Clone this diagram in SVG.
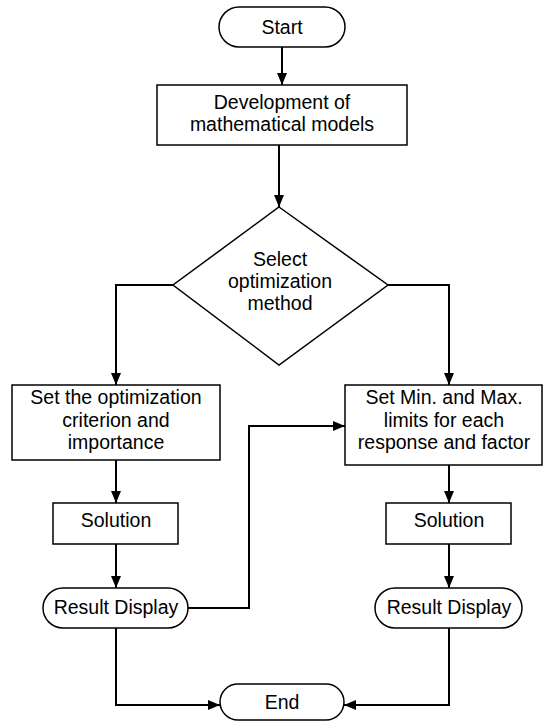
<svg xmlns="http://www.w3.org/2000/svg" width="544" height="721" viewBox="0 0 544 721">
  <style>
    .shape { fill: #ffffff; stroke: #000000; stroke-width: 1.5; }
    .label { font-family: "Liberation Sans", Arial, sans-serif; font-size: 19.5px; fill: #000000; text-anchor: middle; }
    .conn { fill: none; stroke: #000000; stroke-width: 2; }
  </style>
  <defs>
    <marker id="arrow" viewBox="0 0 12 10" refX="12" refY="5" markerWidth="12" markerHeight="10" markerUnits="userSpaceOnUse" orient="auto">
      <path d="M0,0 L12,5 L0,10 Z" fill="#000000"/>
    </marker>
  </defs>
  <rect width="544" height="721" fill="#ffffff"/>

  <g id="connectors">
    <path class="conn" d="M282,47 L282,85" marker-end="url(#arrow)"/>
    <path class="conn" d="M279,145 L279,207" marker-end="url(#arrow)"/>
    <path class="conn" d="M173,285 L116,285 L116,385" marker-end="url(#arrow)"/>
    <path class="conn" d="M388,285 L449,285 L449,385" marker-end="url(#arrow)"/>
    <path class="conn" d="M116,460 L116,503" marker-end="url(#arrow)"/>
    <path class="conn" d="M449,465 L449,503" marker-end="url(#arrow)"/>
    <path class="conn" d="M116,544 L116,588" marker-end="url(#arrow)"/>
    <path class="conn" d="M449,544 L449,588" marker-end="url(#arrow)"/>
    <path class="conn" d="M188,608 L249,608 L249,426 L345,426" marker-end="url(#arrow)"/>
    <path class="conn" d="M116,628 L116,705 L220,705" marker-end="url(#arrow)"/>
    <path class="conn" d="M449,628 L449,705 L344,705" marker-end="url(#arrow)"/>
  </g>

  <g id="start">
    <rect class="shape" x="219" y="7" width="126" height="40" rx="20" ry="20"/>
    <text class="label" x="282" y="34">Start</text>
  </g>

  <g id="develop-models">
    <rect class="shape" x="157" y="85" width="250" height="60"/>
    <text class="label" x="282" y="109">Development of</text>
    <text class="label" x="282" y="131">mathematical models</text>
  </g>

  <g id="select-method">
    <polygon class="shape" points="279,207 388,285 279,365 173,285"/>
    <text class="label" x="280" y="266">Select</text>
    <text class="label" x="280" y="288">optimization</text>
    <text class="label" x="280" y="310">method</text>
  </g>

  <g id="set-criterion">
    <rect class="shape" x="12" y="385" width="208" height="75"/>
    <text class="label" x="116" y="404">Set the optimization</text>
    <text class="label" x="116" y="427">criterion and</text>
    <text class="label" x="116" y="449">importance</text>
  </g>

  <g id="set-limits">
    <rect class="shape" x="345" y="385" width="197" height="80"/>
    <text class="label" x="444" y="404">Set Min. and Max.</text>
    <text class="label" x="444" y="427">limits for each</text>
    <text class="label" x="444" y="449">response and factor</text>
  </g>

  <g id="solution-left">
    <rect class="shape" x="53" y="503" width="125" height="41"/>
    <text class="label" x="116" y="527">Solution</text>
  </g>

  <g id="solution-right">
    <rect class="shape" x="386" y="503" width="125" height="41"/>
    <text class="label" x="449" y="527">Solution</text>
  </g>

  <g id="result-left">
    <rect class="shape" x="43" y="588" width="145" height="40" rx="20" ry="20"/>
    <text class="label" x="116" y="614">Result Display</text>
  </g>

  <g id="result-right">
    <rect class="shape" x="375" y="588" width="147" height="40" rx="20" ry="20"/>
    <text class="label" x="449" y="614">Result Display</text>
  </g>

  <g id="end">
    <rect class="shape" x="220" y="684" width="124" height="36" rx="18" ry="18"/>
    <text class="label" x="282" y="709">End</text>
  </g>
</svg>
